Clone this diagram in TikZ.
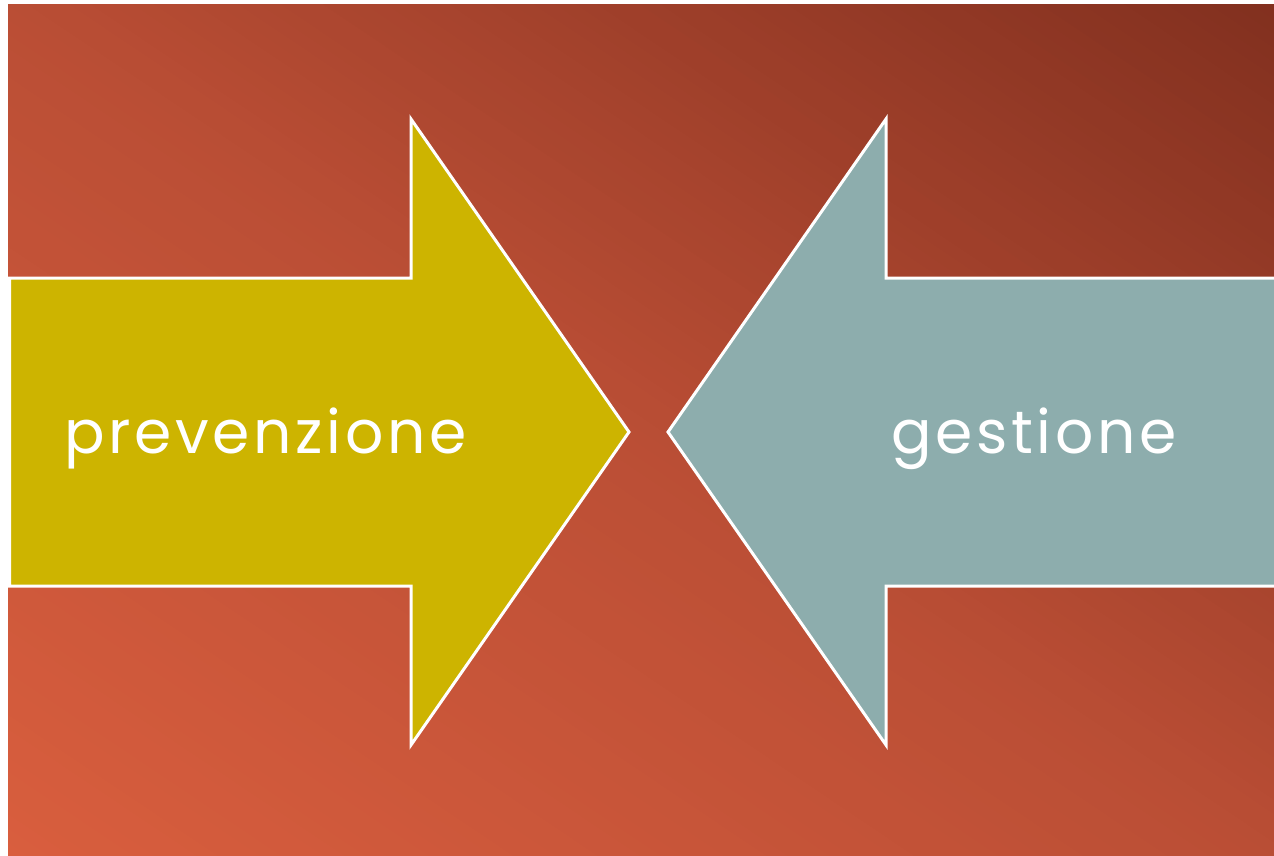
\documentclass[tikz,border=0pt]{standalone}
\usepackage{fontspec}
\setmainfont{Poppins}[LetterSpace=6]
\definecolor{bgdark}{HTML}{82301F}
\definecolor{bgmid}{HTML}{BA4E35}
\definecolor{bglight}{HTML}{D95E3E}
\definecolor{arrowyellow}{HTML}{CDB400}
\definecolor{arrowgrey}{HTML}{8DADAD}
\begin{document}
\begin{tikzpicture}[x=1pt,y=-1pt,
  arrowshape/.style={draw=white,line width=3pt,line join=miter},
  lbl/.style={text=white,font=\fontsize{60}{60}\selectfont,inner sep=0pt,anchor=base}]
\useasboundingbox (0,0) rectangle (1274,856);
\fill[white] (0,0) rectangle (1274,856);
\begin{scope}
  \clip (8,5) rectangle (1274,856);
  \foreach \k in {0,...,119} {
    \pgfmathsetmacro{\sa}{2*\k/120-1}
    \pgfmathsetmacro{\sb}{2*(\k+1.4)/120-1}
    \ifnum\k<60
      \pgfmathtruncatemacro{\p}{round((\k+0.5)*100/60)}
      \colorlet{stripcol}{bgmid!\p!bglight}
    \else
      \pgfmathtruncatemacro{\p}{round((\k+0.5-60)*100/60)}
      \colorlet{stripcol}{bgdark!\p!bgmid}
    \fi
    \fill[stripcol] (-1258,{5+(-1-\sa)*851}) -- (2540,{5+(2-\sa)*851})
      -- (2540,{5+(2-\sb)*851}) -- (-1258,{5+(-1-\sb)*851}) -- cycle;
  }
\end{scope}
\draw[arrowshape, fill=arrowyellow] (9.5,278) -- (411,278) -- (411,119) -- (629,432) -- (411,745) -- (411,586) -- (9.5,586) -- cycle;
\draw[arrowshape, fill=arrowgrey] (1285,278) -- (886,278) -- (886,119) -- (668,432) -- (886,745) -- (886,586) -- (1285,586) -- cycle;
\node[lbl] (prev) at (265.5,453) {prevenzione};
\node[lbl] (gest) at (1034,453) {gestione};
\end{tikzpicture}
\end{document}
